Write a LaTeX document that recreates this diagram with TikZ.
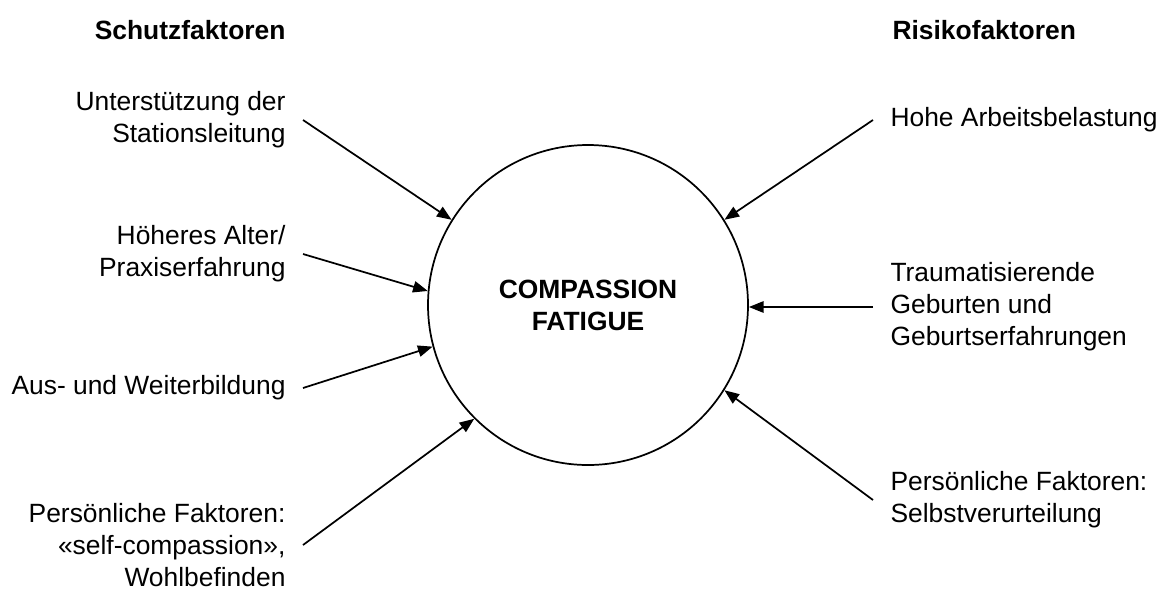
\documentclass[tikz,border=0pt]{standalone}
\usepackage{fontspec}
\setmainfont{Liberation Sans}
\usetikzlibrary{arrows.meta}

\begin{document}
\begin{tikzpicture}[
    x=0.75pt, y=-0.75pt,
    every node/.style={font=\fontsize{19.8}{24}\selectfont},
    schutz/.style={anchor=east, align=right, inner xsep=12.75pt, inner ysep=0.5pt},
    risiko/.style={anchor=west, align=left, inner xsep=12.75pt, inner ysep=0.5pt},
    kopf/.style={font=\fontsize{19.8}{24}\selectfont\bfseries, inner sep=0pt},
    pfeil/.style={-{Triangle[length=11pt,width=8.5pt]}, line width=1.3pt},
    thick
]
\useasboundingbox (0,0) rectangle (1163,590);

\node[draw, circle, line width=1.3pt, minimum size=240pt, align=center,
      font=\fontsize{19.8}{24}\selectfont\bfseries] (cf) at (588,305) {COMPASSION\\FATIGUE};

\node[kopf, anchor=east] (schutzkopf) at (286,30) {Schutzfaktoren};
\node[kopf, anchor=west] (risikokopf) at (892,30) {Risikofaktoren};

% Schutzfaktoren
\node[schutz] (stat) at (303,120) {Unterstützung der\\Stationsleitung};
\node[schutz] (alter) at (303,254) {Höheres Alter/\\Praxiserfahrung};
\node[schutz] (bild) at (303,388) {Aus- und Weiterbildung};
\node[schutz] (perss) at (303,545) {Persönliche Faktoren:\\«self-compassion»,\\Wohlbefinden};

% Risikofaktoren
\node[risiko] (last) at (873,120) {Hohe Arbeitsbelastung};
\node[risiko] (trauma) at (873,307) {Traumatisierende\\Geburten und\\Geburtserfahrungen};
\node[risiko] (persr) at (873,500) {Persönliche Faktoren:\\Selbstverurteilung};

\draw[pfeil] (stat.east) -- (cf.148);
\draw[pfeil] (alter.east) -- (cf.175);
\draw[pfeil] (bild.east) -- (cf.195);
\draw[pfeil] (perss.east) -- (cf.225);
\draw[pfeil] (last.west) -- (cf.32);
\draw[pfeil] (trauma.west) -- (trauma.west -| cf.east);
\draw[pfeil] (persr.west) -- (cf.-32);
\end{tikzpicture}
\end{document}
